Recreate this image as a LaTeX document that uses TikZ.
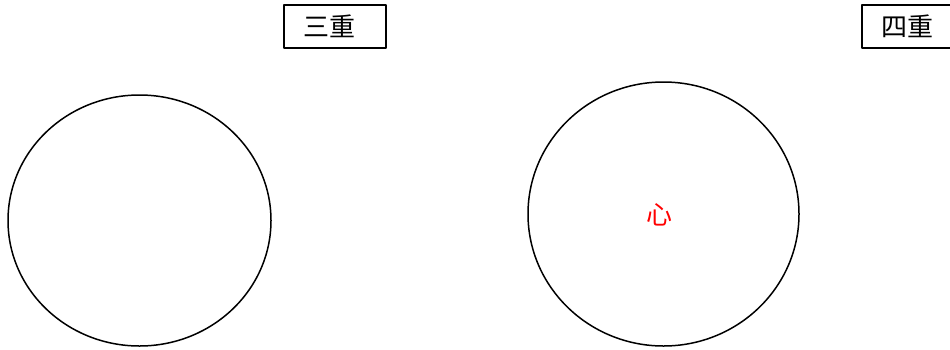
\documentclass[tikz,border=0pt]{standalone}
\usepackage{fontspec}
\newfontfamily\cjk{Noto Sans CJK SC}
\begin{document}
\begin{tikzpicture}[x=1pt, y=-1pt, font=\cjk\fontsize{26}{30}\selectfont, line join=round, line cap=round,
	tag/.style={draw, line width=1.5pt, text width=64pt, align=left, inner xsep=19pt, minimum height=43pt, inner ysep=0pt}]
	\useasboundingbox (0,0) rectangle (950,349);
	\draw[line width=1.5pt] (139.5,220.5) ellipse [x radius=131.5, y radius=125.5];
	\draw[line width=1.5pt] (663.5,214) ellipse [x radius=135.5, y radius=132];
	\node[tag] (triple) at (335,26.5) {三重};
	\node[tag] (quad) at (913,26.5) {四重};
	\node[text=red] (heart) at (659.5,215) {心};
\end{tikzpicture}
\end{document}
